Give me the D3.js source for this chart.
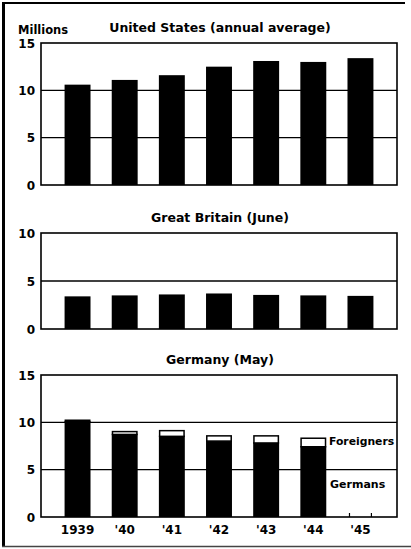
<!DOCTYPE html>
<meta charset="utf-8">
<head>
<script src="https://d3js.org/d3.v7.min.js"></script>
<style>
body { margin: 0; background: #fff; }
text { font-family: "DejaVu Sans", sans-serif; font-weight: bold; fill: #000; }
</style>
</head>
<body>
<svg id="chart"></svg>
<script>
// values, millions of workers
var years = ["1939", "'40", "'41", "'42", "'43", "'44", "'45"];
var usValues = [10.6, 11.1, 11.6, 12.5, 13.1, 13.0, 13.4];
var gbValues = [3.4, 3.5, 3.6, 3.7, 3.55, 3.5, 3.45];
var deGermans = [10.15, 8.8, 8.6, 8.1, 7.9, 7.5, null];
var deForeigners = [0.15, 0.3, 0.6, 0.55, 0.75, 0.9, null];
var usTicks = [0, 5, 10, 15];
var gbTicks = [0, 5, 10];
var deTicks = [0, 5, 10, 15];

var width = 411, height = 549;
var svg = d3.select("#chart").attr("width", width).attr("height", height);

// outer frame (scan has no right edge)
svg.append("line").attr("x1", 2).attr("x2", 405).attr("y1", 3).attr("y2", 3)
  .attr("stroke", "#000").attr("stroke-width", 2);
svg.append("line").attr("x1", 3.5).attr("x2", 3.5).attr("y1", 2).attr("y2", 547)
  .attr("stroke", "#000").attr("stroke-width", 3);
svg.append("line").attr("x1", 2).attr("x2", 411).attr("y1", 546.5).attr("y2", 546.5)
  .attr("stroke", "#444").attr("stroke-width", 1.5);

var x = d3.scaleBand().domain(years).range([41, 397]).paddingInner(0.45).paddingOuter(0.5);

function panel(title, top, bottom, maxV, ticks) {
  var y = d3.scaleLinear().domain([0, maxV]).range([bottom, top]);
  var g = svg.append("g");
  g.selectAll(".grid").data(ticks.filter(function(t) { return t > 0 && t < maxV; }))
    .enter().append("line")
    .attr("x1", 41).attr("x2", 397)
    .attr("y1", function(d) { return y(d); }).attr("y2", function(d) { return y(d); })
    .attr("stroke", "#000").attr("stroke-width", 1.3);
  g.append("rect").attr("x", 41).attr("y", top).attr("width", 356).attr("height", bottom - top)
    .attr("fill", "none").attr("stroke", "#000").attr("stroke-width", 1.6);
  g.selectAll(".tick").data(ticks).enter().append("text")
    .attr("x", 35).attr("y", function(d) { return y(d) + 4.5; })
    .attr("text-anchor", "end").attr("font-size", 12)
    .text(function(d) { return d; });
  g.append("text").attr("x", 220).attr("y", top - 11)
    .attr("text-anchor", "middle").attr("font-size", 12.5)
    .text(title);
  return {g: g, y: y};
}

var us = panel("United States (annual average)", 43, 185, 15, usTicks);
us.g.selectAll(".bar").data(usValues).enter().append("rect")
  .attr("x", function(d, i) { return x(years[i]); })
  .attr("width", x.bandwidth())
  .attr("y", function(d) { return us.y(d); })
  .attr("height", function(d) { return us.y(0) - us.y(d); })
  .attr("fill", "#000");
svg.append("text").attr("x", 18).attr("y", 34).attr("font-size", 11.5).text("Millions");

var gb = panel("Great Britain (June)", 233, 329, 10, gbTicks);
gb.g.selectAll(".bar").data(gbValues).enter().append("rect")
  .attr("x", function(d, i) { return x(years[i]); })
  .attr("width", x.bandwidth())
  .attr("y", function(d) { return gb.y(d); })
  .attr("height", function(d) { return gb.y(0) - gb.y(d); })
  .attr("fill", "#000");

var de = panel("Germany (May)", 375, 517, 15, deTicks);
var deRows = years.map(function(yr, i) {
  return {year: yr, germans: deGermans[i], foreigners: deForeigners[i]};
});
var withData = deRows.filter(function(d) { return d.germans != null; });
de.g.selectAll(".ger").data(withData).enter().append("rect")
  .attr("x", function(d) { return x(d.year); })
  .attr("width", x.bandwidth())
  .attr("y", function(d) { return de.y(d.germans); })
  .attr("height", function(d) { return de.y(0) - de.y(d.germans); })
  .attr("fill", "#000");
de.g.selectAll(".for").data(withData).enter().append("rect")
  .attr("x", function(d) { return x(d.year) + 0.75; })
  .attr("width", x.bandwidth() - 1.5)
  .attr("y", function(d) { return de.y(d.germans + d.foreigners) + 0.75; })
  .attr("height", function(d) { return Math.max(0, de.y(d.germans) - de.y(d.germans + d.foreigners)); })
  .attr("fill", "#fff").attr("stroke", "#000").attr("stroke-width", 1.5);
// '45: only the bar stubs on the baseline
deRows.filter(function(d) { return d.germans == null; }).forEach(function(d) {
  [x(d.year) + 2, x(d.year) + x.bandwidth() - 2].forEach(function(px) {
    de.g.append("line").attr("x1", px).attr("x2", px)
      .attr("y1", de.y(0) - 4).attr("y2", de.y(0))
      .attr("stroke", "#000").attr("stroke-width", 1.2);
  });
});
de.g.selectAll(".xl").data(years).enter().append("text")
  .attr("x", function(d) { return x(d) + x.bandwidth() / 2; })
  .attr("y", 534).attr("text-anchor", "middle").attr("font-size", 12)
  .text(function(d) { return d; });
svg.append("text").attr("x", 329).attr("y", 445).attr("font-size", 10.8).text("Foreigners");
svg.append("text").attr("x", 330).attr("y", 488).attr("font-size", 11).text("Germans");
</script>
</body>
